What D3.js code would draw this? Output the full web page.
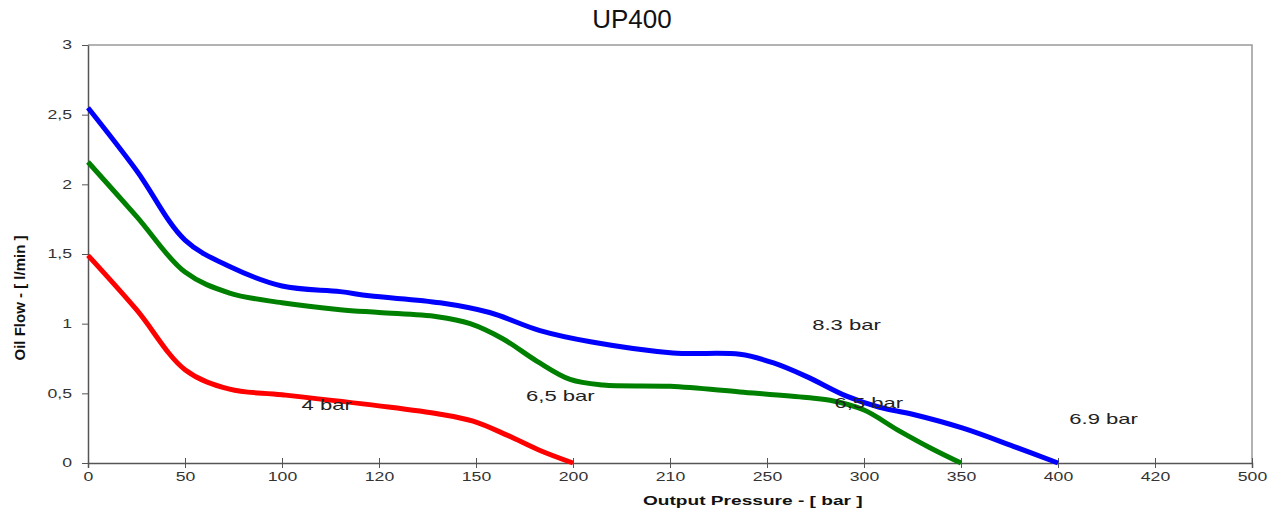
<!DOCTYPE html>
<html>
<head>
<meta charset="utf-8">
<script src="https://cdn.jsdelivr.net/npm/d3@7"></script>
<style>
  body { margin: 0; background: #fff; }
  text { font-family: "Liberation Sans", Arial, sans-serif; }
</style>
</head>
<body>
<svg id="svg" width="1279" height="513"></svg>
<script>
// x axis is categorical: evenly spaced pressure labels
var pressureTicks = [0, 50, 100, 120, 150, 200, 210, 250, 300, 350, 400, 420, 500];
var flowTicks = [0, 0.5, 1, 1.5, 2, 2.5, 3];

// series as [tick position, l/min]
var flow4bar = [[0, 1.49], [0.5, 1.1], [1, 0.67], [1.46, 0.53], [2, 0.49], [3, 0.41], [3.63, 0.35],
  [3.97, 0.3], [4.32, 0.2], [4.66, 0.09], [5, 0]];
var flow65bar = [[0, 2.16], [0.5, 1.77], [1, 1.37], [1.46, 1.22], [2, 1.15], [2.6, 1.1], [3, 1.08],
  [3.6, 1.05], [3.94, 1.0], [4.28, 0.89], [4.63, 0.73], [4.97, 0.6], [5.31, 0.56], [6, 0.55],
  [6.72, 0.51], [7.41, 0.47], [7.65, 0.45], [8.0, 0.38], [8.34, 0.24], [8.68, 0.11], [9, 0]];
var flow83bar = [[0, 2.55], [0.5, 2.1], [1, 1.6], [1.46, 1.41], [2, 1.27], [2.6, 1.23], [2.9, 1.2],
  [3.63, 1.15], [4.14, 1.08], [4.66, 0.95], [5.18, 0.87], [6.03, 0.79], [6.72, 0.78], [7.06, 0.72],
  [7.41, 0.62], [7.82, 0.48], [8.16, 0.4], [8.5, 0.35], [9.02, 0.25], [9.54, 0.12], [10, 0]];

var series = [
  {name: "4 bar", color: "#ff0000", values: flow4bar},
  {name: "6,5 bar", color: "#008000", values: flow65bar},
  {name: "8.3 bar", color: "#0000ff", values: flow83bar}
];

// free-floating annotations [tick position, l/min, text]
var notes = [
  [2.46, 0.42, "4 bar"],
  [4.87, 0.48, "6,5 bar"],
  [7.82, 0.99, "8.3 bar"],
  [8.05, 0.43, "6,5 bar"],
  [10.47, 0.32, "6.9 bar"]
];

var svg = d3.select("#svg");
var plotL = 88, plotR = 1252, plotT = 45, plotB = 463;
var stretch = 1.47; // picture text is wide, as if the chart was pulled sideways

var x = d3.scaleLinear().domain([0, pressureTicks.length - 1]).range([plotL, plotR]);
var y = d3.scaleLinear().domain([0, 3]).range([plotB, plotT]);

svg.append("text")
  .attr("x", 632).attr("y", 28)
  .attr("text-anchor", "middle")
  .style("font-size", "26px").style("fill", "#111")
  .text("UP400");

// frame on top/right
svg.append("path")
  .attr("d", "M" + plotL + "," + plotT + "H" + plotR + "V" + plotB)
  .attr("fill", "none").attr("stroke", "#999").attr("stroke-width", 1.5);

var xAxis = svg.append("g")
  .attr("transform", "translate(0," + plotB + ")")
  .call(d3.axisBottom(x)
    .tickValues(d3.range(pressureTicks.length))
    .tickFormat(function(i){ return pressureTicks[i]; })
    .tickSize(5));
xAxis.select(".domain").attr("stroke", "#555").attr("stroke-width", 1.5);
xAxis.selectAll(".tick line").attr("stroke", "#555").attr("y1", -5);
xAxis.selectAll(".tick text")
  .attr("y", 9).attr("dy", "0.71em")
  .attr("transform", "scale(" + stretch + ",1)")
  .style("font-size", "12px").style("fill", "#333").style("font-family", "Liberation Sans, Arial, sans-serif");

var yAxis = svg.append("g")
  .attr("transform", "translate(" + plotL + ",0)")
  .call(d3.axisLeft(y)
    .tickValues(flowTicks)
    .tickFormat(function(d){ return String(d).replace(".", ","); })
    .tickSize(6).tickSizeOuter(0));
yAxis.select(".domain").attr("stroke", "#555").attr("stroke-width", 1.5);
yAxis.selectAll(".tick line").attr("stroke", "#555");
yAxis.selectAll(".tick text")
  .attr("x", -16 / stretch)
  .attr("transform", "scale(" + stretch + ",1)")
  .style("font-size", "12px").style("fill", "#333").style("font-family", "Liberation Sans, Arial, sans-serif");

var line = d3.line()
  .x(function(d){ return x(d[0]); })
  .y(function(d){ return y(d[1]); })
  .curve(d3.curveCatmullRom.alpha(0.5));

svg.selectAll("path.flow")
  .data(series)
  .enter()
  .append("path")
  .attr("class", "flow")
  .attr("d", function(d){ return line(d.values); })
  .attr("fill", "none")
  .attr("stroke", function(d){ return d.color; })
  .attr("stroke-width", 5)
  .attr("stroke-linejoin", "round");

svg.selectAll("text.note")
  .data(notes)
  .enter()
  .append("text")
  .attr("class", "note")
  .attr("transform", function(d){ return "translate(" + x(d[0]) + "," + y(d[1]) + ") scale(" + stretch + ",1)"; })
  .attr("dy", "0.35em")
  .attr("text-anchor", "middle")
  .style("font-size", "15px").style("fill", "#222")
  .text(function(d){ return d[2]; });

svg.append("text")
  .attr("transform", "translate(643,505) scale(" + stretch + ",1)")
  .style("font-size", "13px").style("font-weight", "bold").style("fill", "#111")
  .text("Output Pressure - [ bar ]");

svg.append("text")
  .attr("transform", "translate(25,298) rotate(-90)")
  .attr("text-anchor", "middle")
  .style("font-size", "15px").style("font-weight", "bold").style("fill", "#111")
  .text("Oil Flow - [ l/min ]");
</script>
</body>
</html>
